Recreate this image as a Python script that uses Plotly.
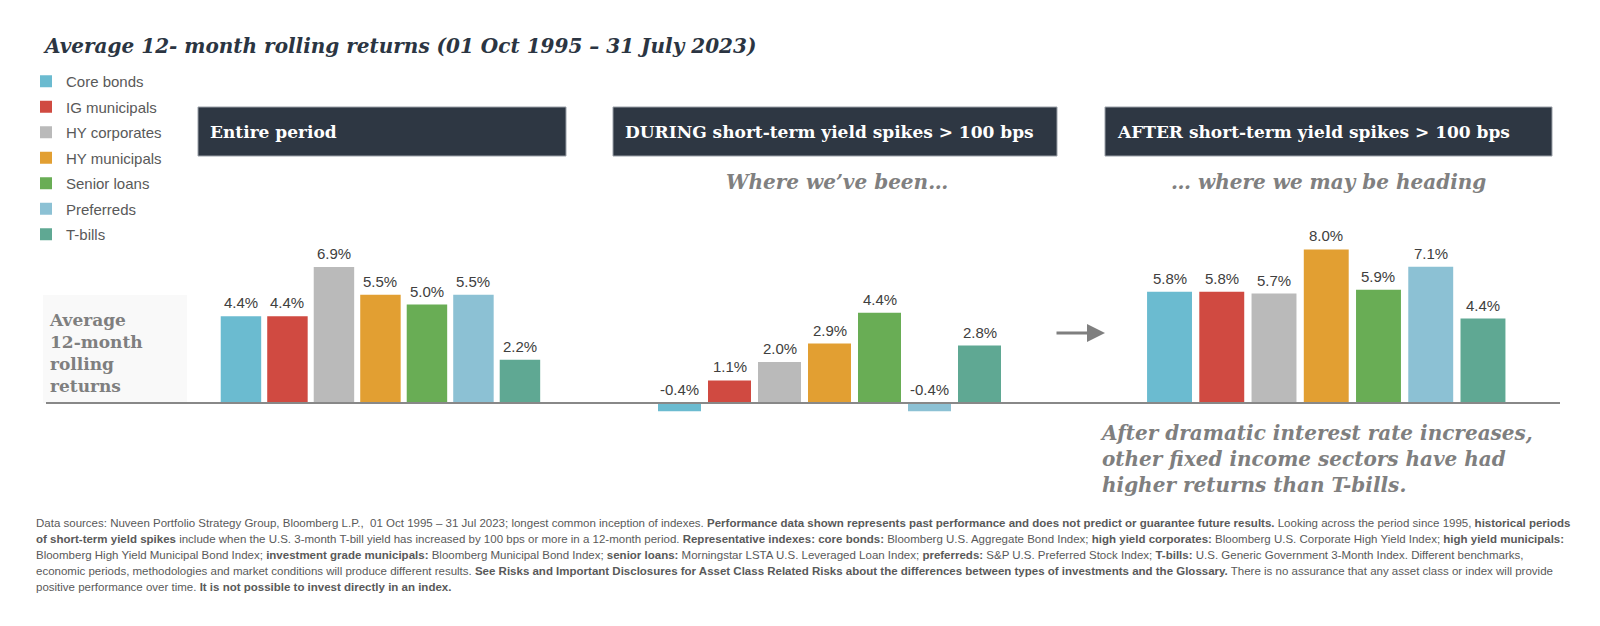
import plotly.graph_objects as go

W, H = 1600, 626

categories = ["Core bonds", "IG municipals", "HY corporates", "HY municipals",
              "Senior loans", "Preferreds", "T-bills"]
colors = ["#6bbbd0", "#d04a41", "#bababa", "#e29f32", "#69ad55", "#8cc1d4", "#5fa893"]

entire_period = [4.4, 4.4, 6.9, 5.5, 5.0, 5.5, 2.2]
during_spikes = [-0.4, 1.1, 2.0, 2.9, 4.4, -0.4, 2.8]
after_spikes = [5.8, 5.8, 5.7, 8.0, 5.9, 7.1, 4.4]

panel_titles = ["Entire period",
                "DURING short-term yield spikes > 100 bps",
                "AFTER short-term yield spikes > 100 bps"]
subtitles = ["", "Where we\u2019ve been\u2026", "\u2026 where we may be heading"]

footnote_lines = [
    "Data sources: Nuveen Portfolio Strategy Group, Bloomberg L.P.,  01 Oct 1995 \u2013 31 Jul 2023; longest common inception of indexes. "
    "<b>Performance data shown represents past performance and does not predict or guarantee future results.</b> "
    "Looking across the period since 1995, <b>historical periods</b>",
    "<b>of short-term yield spikes</b> include when the U.S. 3-month T-bill yield has increased by 100 bps or more in a 12-month period. "
    "<b>Representative indexes: core bonds:</b> Bloomberg U.S. Aggregate Bond Index; <b>high yield corporates:</b> "
    "Bloomberg U.S. Corporate High Yield Index; <b>high yield municipals:</b>",
    "Bloomberg High Yield Municipal Bond Index; <b>investment grade municipals:</b> Bloomberg Municipal Bond Index; "
    "<b>senior loans:</b> Morningstar LSTA U.S. Leveraged Loan Index; <b>preferreds:</b> S&P U.S. Preferred Stock Index; "
    "<b>T-bills:</b> U.S. Generic Government 3-Month Index. Different benchmarks,",
    "economic periods, methodologies and market conditions will produce different results. "
    "<b>See Risks and Important Disclosures for Asset Class Related Risks about the differences between types of investments and the Glossary.</b> "
    "There is no assurance that any asset class or index will provide",
    "positive performance over time. <b>It is not possible to invest directly in an index.</b>",
]

SERIF = "DejaVu Serif, Liberation Serif, serif"
SANS = "Liberation Sans, Arial, sans-serif"


def px(x):
    return x / W


def py(y):
    return 1 - y / H


panels = [entire_period, during_spikes, after_spikes]
x_domains = [(217.7, 543.2), (654.5, 1004.5), (1143.4, 1509.1)]
y_ranges = [(-0.863, 8.782), (-0.829, 8.439), (-0.885, 9.010)]
bargaps = [0.13, 0.14, 0.14]
y_dom = [py(420), py(230)]

fig = go.Figure()

annotations = []
for p, vals in enumerate(panels):
    xa = "x" if p == 0 else f"x{p + 1}"
    ya = "y" if p == 0 else f"y{p + 1}"
    for i, cat in enumerate(categories):
        fig.add_trace(go.Bar(
            x=[cat], y=[vals[i]], name=cat,
            marker=dict(color=colors[i], line=dict(width=0)),
            width=1 - bargaps[p],
            legendgroup=cat, showlegend=(p == 0),
            xaxis=xa, yaxis=ya, hoverinfo="skip",
        ))
        annotations.append(dict(
            x=cat, y=max(vals[i], 0), xref=xa, yref=ya,
            text=f"{vals[i]:.1f}%", showarrow=False,
            yanchor="bottom", yshift=3,
            font=dict(family=SANS, size=15, color="#404040"),
        ))

layout_axes = {}
for p in range(3):
    sx = "xaxis" if p == 0 else f"xaxis{p + 1}"
    sy = "yaxis" if p == 0 else f"yaxis{p + 1}"
    layout_axes[sx] = dict(domain=[px(x_domains[p][0]), px(x_domains[p][1])],
                           visible=False, type="category",
                           categoryorder="array", categoryarray=categories,
                           anchor="y" if p == 0 else f"y{p + 1}")
    layout_axes[sy] = dict(domain=y_dom, range=list(y_ranges[p]), visible=False,
                           anchor="x" if p == 0 else f"x{p + 1}")

shapes = []
# faint panel behind the y label
shapes.append(dict(type="rect", xref="paper", yref="paper",
                   x0=px(43), x1=px(187), y0=py(403), y1=py(295),
                   fillcolor="#f9f9f9", line=dict(width=0), layer="below"))
# header boxes
boxes = [(198, 566), (613, 1057), (1105, 1552)]
for (x0, x1), t in zip(boxes, panel_titles):
    shapes.append(dict(type="rect", xref="paper", yref="paper",
                       x0=px(x0), x1=px(x1), y0=py(156), y1=py(107),
                       fillcolor="#2e3743", line=dict(color="#9aa0a8", width=1)))
    annotations.append(dict(x=px(x0 + 10), y=py(131.5), xref="paper", yref="paper",
                            text=f"<b>{t}</b>", showarrow=False,
                            xanchor="left", yanchor="middle",
                            font=dict(family=SERIF, size=17, color="white")))
# baseline
shapes.append(dict(type="line", xref="paper", yref="y",
                   x0=px(46), x1=px(1560), y0=0, y1=0,
                   line=dict(color="#888888", width=2)))

# subtitles
sub_centers = [None, 837, 1328]
for c, s in zip(sub_centers, subtitles):
    if c:
        annotations.append(dict(x=px(c), y=py(182), xref="paper", yref="paper",
                                text=f"<b><i>{s}</i></b>", showarrow=False,
                                xanchor="center", yanchor="middle",
                                font=dict(family=SERIF, size=20, color="#808080")))

# title
annotations.append(dict(x=px(41), y=py(46), xref="paper", yref="paper",
                        text="<b><i>Average 12- month rolling returns (01 Oct 1995 \u2013 31 July 2023)</i></b>",
                        showarrow=False, xanchor="left", yanchor="middle",
                        font=dict(family=SERIF, size=20, color="#2b3542")))

# y label
annotations.append(dict(x=px(47), y=py(353), xref="paper", yref="paper",
                        text="<b>Average<br>12-month<br>rolling<br>returns</b>",
                        showarrow=False, xanchor="left", yanchor="middle", align="left",
                        font=dict(family=SERIF, size=17, color="#7f7f7f")))

# arrow
annotations.append(dict(x=px(1105), y=py(333), xref="paper", yref="paper",
                        ax=-50, ay=0, text="", showarrow=True,
                        arrowhead=2, arrowsize=1.2, arrowwidth=3, arrowcolor="#7f7f7f"))

# conclusion text
annotations.append(dict(x=px(1098), y=py(419), xref="paper", yref="paper",
                        text="<b><i>After dramatic interest rate increases,<br>"
                             "other fixed income sectors have had<br>"
                             "higher returns than T-bills.</i></b>",
                        showarrow=False, xanchor="left", yanchor="top", align="left",
                        font=dict(family=SERIF, size=20, color="#7f7f7f")))

# footnote, one annotation per line
for k, line in enumerate(footnote_lines):
    annotations.append(dict(x=px(34), y=py(523 + 16 * k), xref="paper", yref="paper",
                            text=line, showarrow=False, xanchor="left", yanchor="middle",
                            align="left",
                            font=dict(family=SANS, size=11.5, color="#595959")))

fig.update_layout(
    width=W, height=H,
    margin=dict(l=0, r=0, t=0, b=0),
    paper_bgcolor="white", plot_bgcolor="rgba(0,0,0,0)",
    barmode="overlay",
    showlegend=True,
    legend=dict(x=px(26), y=py(65), xanchor="left", yanchor="top",
                traceorder="grouped", tracegroupgap=3,
                font=dict(family=SANS, size=15, color="#595959"),
                bgcolor="rgba(0,0,0,0)"),
    shapes=shapes, annotations=annotations,
    **layout_axes,
)

fig.write_html("out.html", config={"displayModeBar": False},
               post_script="document.body.style.margin='0';")
